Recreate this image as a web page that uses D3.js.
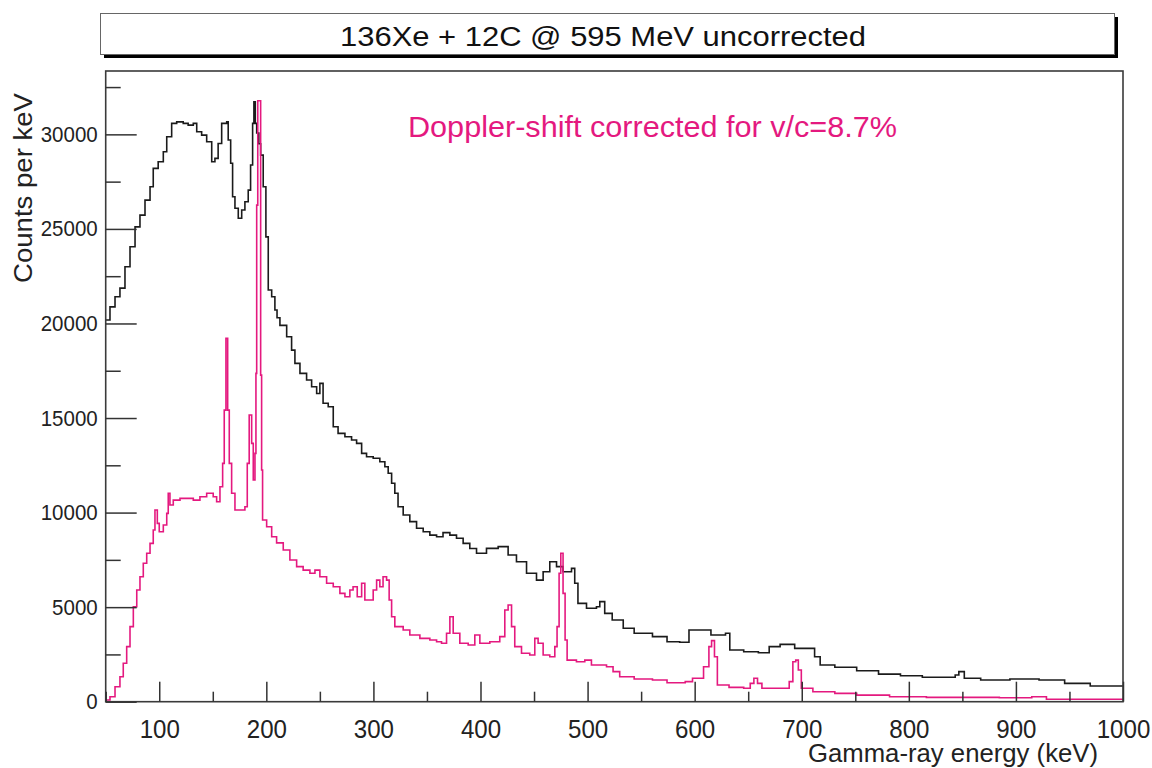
<!DOCTYPE html>
<html>
<head>
<meta charset="utf-8">
<script src="https://cdn.jsdelivr.net/npm/d3@7"></script>
<style>
  body { margin: 0; background: #fff; }
  svg { display: block; font-family: "Liberation Sans", Arial, sans-serif; }
</style>
</head>
<body>
<div class="content-container"></div>
<script>

// DATA (energy in keV, counts per keV)

const titleText = "136Xe + 12C @ 595 MeV  uncorrected";
const noteText = "Doppler-shift corrected for v/c=8.7%";
const xLabel = "Gamma-ray energy (keV)";
const yLabel = "Counts per keV";

const xMajorTicks = [100, 200, 300, 400, 500, 600, 700, 800, 900, 1000];
const xMinorTicks = [50, 150, 250, 350, 450, 550, 650, 750, 850, 950];
const yMajorTicks = [0, 5000, 10000, 15000, 20000, 25000, 30000];
const yMinorTicks = [2500, 7500, 12500, 17500, 22500, 27500, 32500];

// uncorrected spectrum (black)
const rawEnergy = [50, 54, 58.7, 63.3, 68, 72.7, 77.4, 82, 86.7, 91.4, 94.4, 99, 103.8, 107, 111.6, 116.3, 122.4, 127, 131.8, 135,
  139.6, 144.3, 149, 152, 155, 158.3, 163, 164.4, 166.7, 168.5, 170.7, 173.8, 177, 180, 183.1, 185.3, 187.2, 188.4, 189.7, 191,
  193, 194.7, 197.1, 199.6, 201.8, 205, 208, 210, 212.7, 219, 223.6, 226.7, 231.4, 237.6, 242.3, 247, 250, 253, 257.8, 262.5,
  267, 273.4, 279.6, 284.3, 289, 293.6, 299.8, 306, 310.7, 313.8, 317, 320, 323, 327.8, 334, 340.3, 346.5, 352.7, 359, 365,
  371.4, 377.6, 383.8, 390, 396.3, 405.6, 416.5, 425.8, 433.6, 443, 452.3, 458.5, 464.7, 471, 477.1, 485, 488, 491, 499, 508.3,
  511.4, 516, 523, 533.3, 543.5, 560.6, 574.2, 586, 594.7, 605, 615.2, 628.8, 632.8, 645.8, 659.5, 669.6, 679.8, 693.4, 707, 712,
  717.2, 730.9, 751.3, 771.7, 792.2, 812.6, 833, 843.3, 846.7, 851.8, 867.1, 894.4, 921.6, 945.5, 969.4, 1000];
const rawCounts = [20180, 20880, 21410, 21870, 23000, 24060, 25110, 25730, 26520, 27230, 28200, 28550, 29080, 29870, 30580, 30660, 30580, 30490, 30580, 30140,
  29960, 29610, 28550, 28730, 29520, 30580, 30660, 29700, 28470, 26700, 26090, 25560, 26000, 26440, 27050, 28380, 30580, 31720, 30580, 30070,
  29500, 28900, 27230, 24580, 21770, 21410, 20710, 20300, 19900, 19300, 18590, 17890, 17360, 17010, 16650, 16300, 16830, 15780, 15600, 14540,
  14190, 14010, 13840, 13660, 13130, 12950, 12870, 12690, 12420, 12080, 11550, 11020, 10310, 9870, 9520, 9170, 8990, 8810, 8720, 8940,
  8810, 8640, 8370, 8100, 7850, 8110, 8200, 7760, 7400, 6790, 6430, 6870, 7400, 7140, 6870, 7050, 6260, 5200, 4940, 5020,
  5290, 4670, 4320, 3880, 3620, 3440, 3170, 3140, 3790, 3790, 3530, 3620, 2730, 2640, 2590, 2910, 3030, 2820, 2820, 2380,
  1940, 1820, 1640, 1460, 1370, 1290, 1290, 1410, 1590, 1240, 1150, 1200, 1150, 970, 830, 830];

// Doppler-corrected spectrum (magenta)
const corrEnergy = [50, 54, 58.7, 63.3, 66.4, 69.6, 72.7, 75.8, 79, 82, 85.1, 88.3, 91.4, 94.4, 96, 98.2, 100, 103.8, 107, 108.4,
  110, 113.1, 119.4, 125.6, 131.8, 138, 144.3, 150.4, 153.6, 156.7, 159.2, 160.7, 162.3, 163.9, 165.4, 167.6, 170.7, 175.4, 180, 182.2,
  184, 186.3, 187.8, 189.4, 190.3, 191, 192, 194.7, 195.6, 196.5, 197.8, 200.3, 205, 209.6, 215.8, 222, 228.3, 234.4, 240.7, 245.4,
  250, 256.3, 262.5, 268.7, 273.4, 278, 281, 284.9, 289, 292, 296.7, 299.8, 303, 306, 309, 312.3, 314.7, 317, 320, 327.8,
  334, 343.4, 352.7, 359, 363.6, 368.3, 371.4, 374.5, 380.7, 388.5, 394.7, 399.4, 408.7, 418, 422.7, 425.8, 429, 432, 438.3, 446,
  450.7, 453.8, 458.5, 464.7, 469.4, 471.5, 473.4, 475, 477.1, 479, 480.9, 489.6, 497.4, 503.6, 511.4, 517.7, 523.8, 530, 543.5, 560.6,
  574.2, 591.2, 598, 608.3, 613.3, 615.8, 618.5, 621.2, 632.1, 645.8, 651.9, 655.3, 658.7, 662.8, 679.8, 688.3, 691.7, 694.4, 696.8, 699.6,
  710.4, 730.9, 751.3, 782, 816.4, 850.4, 884.5, 914.8, 928.5, 962.5, 1000];
const corrCounts = [90, 260, 790, 1320, 2030, 2910, 3970, 5020, 5910, 6610, 7320, 7850, 8370, 9080, 10140, 9430, 8990, 9340, 9960, 11020,
  10400, 10660, 10750, 10750, 10660, 10840, 11020, 10840, 10570, 11370, 12600, 15420, 19210, 15420, 12600, 11020, 10140, 10140, 10310, 12600,
  15160, 13660, 11720, 13130, 17360, 26260, 31780, 17270, 12250, 9610, 9610, 9250, 8720, 8400, 8020, 7490, 7140, 6960, 6790, 6960,
  6610, 6260, 6080, 5730, 5550, 5910, 6080, 5550, 6260, 5380, 5380, 5910, 6430, 6080, 6610, 6430, 5380, 4490, 3970, 3790,
  3530, 3350, 3260, 3170, 3090, 3620, 4490, 3620, 3090, 3000, 3530, 3090, 3170, 3440, 4850, 5110, 3970, 2910, 2560, 2470,
  3350, 3090, 2470, 2380, 2910, 3970, 6790, 7850, 5730, 3260, 2200, 2110, 2200, 1940, 1940, 1850, 1590, 1320, 1200, 1150,
  1000, 1060, 1240, 1850, 2910, 3230, 2380, 880, 760, 710, 970, 1240, 970, 710, 710, 1060, 2110, 2200, 1680, 710,
  530, 440, 350, 260, 230, 230, 210, 260, 130, 130, 90];

const width = 1152;
const height = 768;
const frame = { left: 105.7, right: 1123, top: 71, bottom: 701.7 };

const rawData = rawEnergy.map((e, i) => [e, rawCounts[i]]);
const corrData = corrEnergy.map((e, i) => [e, corrCounts[i]]);

//SCALES

const xScale = d3.scaleLinear()
                 .domain([50, 1000])
                 .range([frame.left, frame.right]);

const yScale = d3.scaleLinear()
                 .domain([0, 33350])
                 .range([frame.bottom, frame.top]);

const chart = d3.select(".content-container")
              .append("svg")
              .attr("width", width)
              .attr("height", height);

//TITLE BOX (with drop shadow)

chart.append("rect")
  .attr("x", 104).attr("y", 17)
  .attr("width", 1014).attr("height", 41)
  .attr("fill", "#000");

chart.append("rect")
  .attr("x", 100.5).attr("y", 13.5)
  .attr("width", 1014).attr("height", 41)
  .attr("fill", "#fff")
  .attr("stroke", "#666")
  .attr("stroke-width", 1);

chart.append("text")
  .attr("x", 603)
  .attr("y", 46)
  .attr("text-anchor", "middle")
  .attr("textLength", 526)
  .attr("lengthAdjust", "spacingAndGlyphs")
  .style("font-size", "27px")
  .style("fill", "#111")
  .text(titleText);

//CLIP + SPECTRA

chart.append("clipPath")
  .attr("id", "plot-clip")
  .append("rect")
  .attr("x", frame.left).attr("y", frame.top)
  .attr("width", frame.right - frame.left)
  .attr("height", frame.bottom - frame.top);

const line = d3.line()
  .x((d) => xScale(d[0]))
  .y((d) => yScale(d[1]))
  .curve(d3.curveStepAfter);

chart.append("path")
  .datum(rawData)
  .attr("clip-path", "url(#plot-clip)")
  .attr("d", line)
  .attr("fill", "none")
  .attr("stroke", "#1b1b1b")
  .attr("stroke-width", 1.6);

chart.append("path")
  .datum(corrData)
  .attr("clip-path", "url(#plot-clip)")
  .attr("d", line)
  .attr("fill", "none")
  .attr("stroke", "#e4197f")
  .attr("stroke-width", 1.6);

//FRAME

chart.append("rect")
  .attr("x", frame.left).attr("y", frame.top)
  .attr("width", frame.right - frame.left)
  .attr("height", frame.bottom - frame.top)
  .attr("fill", "none")
  .attr("stroke", "#3a3a3a")
  .attr("stroke-width", 1.6);

//AXES (ticks point inward)

function styleAxis(g) {
  g.select(".domain").remove();
  g.selectAll(".tick line").attr("stroke", "#333").attr("stroke-width", 1.5);
  g.selectAll(".tick text").style("fill", "#222");
}

chart.append("g")
  .attr("transform", "translate(0," + frame.bottom + ")")
  .call(d3.axisBottom(xScale).tickValues(xMinorTicks).tickSizeInner(-10).tickSizeOuter(0).tickFormat(""))
  .call(styleAxis);

chart.append("g")
  .attr("transform", "translate(0," + frame.bottom + ")")
  .call(d3.axisBottom(xScale).tickValues(xMajorTicks).tickSizeInner(-20).tickSizeOuter(0).tickPadding(18).tickFormat(d3.format("d")))
  .call(styleAxis)
  .call((g) => g.selectAll(".tick text")
    .style("font-size", "26px")
    .attr("textLength", (d) => String(d).length * 13.4)
    .attr("lengthAdjust", "spacingAndGlyphs"));

chart.append("g")
  .attr("transform", "translate(" + frame.left + ",0)")
  .call(d3.axisLeft(yScale).tickValues(yMinorTicks).tickSizeInner(-15).tickSizeOuter(0).tickFormat(""))
  .call(styleAxis);

chart.append("g")
  .attr("transform", "translate(" + frame.left + ",0)")
  .call(d3.axisLeft(yScale).tickValues(yMajorTicks).tickSizeInner(-31).tickSizeOuter(0).tickPadding(8).tickFormat(d3.format("d")))
  .call(styleAxis)
  .call((g) => g.selectAll(".tick text")
    .style("font-size", "22px")
    .attr("textLength", (d) => String(d).length * 11.4)
    .attr("lengthAdjust", "spacingAndGlyphs"));

//AXIS TITLES + NOTE

chart.append("text")
  .attr("transform", "translate(32,188) rotate(-90)")
  .attr("text-anchor", "middle")
  .attr("textLength", 190)
  .attr("lengthAdjust", "spacingAndGlyphs")
  .style("font-size", "26px")
  .style("fill", "#222")
  .text(yLabel);

chart.append("text")
  .attr("x", 1098)
  .attr("y", 762)
  .attr("text-anchor", "end")
  .attr("textLength", 290)
  .attr("lengthAdjust", "spacingAndGlyphs")
  .style("font-size", "25px")
  .style("fill", "#222")
  .text(xLabel);

chart.append("text")
  .attr("x", 408)
  .attr("y", 137)
  .attr("textLength", 489)
  .attr("lengthAdjust", "spacingAndGlyphs")
  .style("font-size", "30px")
  .style("fill", "#e4197f")
  .text(noteText);

</script>
</body>
</html>
